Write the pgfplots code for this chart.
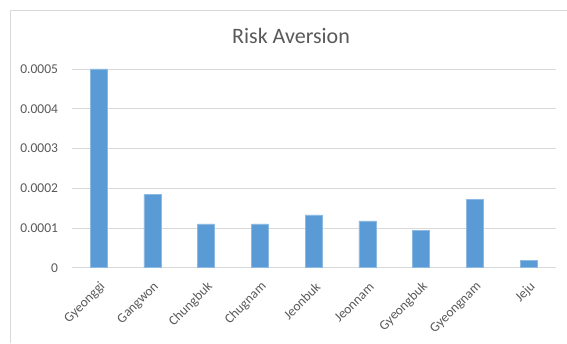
\documentclass[border=0pt]{standalone}
\usepackage{pgfplots}
\pgfplotsset{compat=1.18}
\usepackage{fontspec}
\setmainfont{Carlito}
\definecolor{barblue}{HTML}{5B9BD5}
\definecolor{gridgray}{HTML}{D9D9D9}
\definecolor{txtgray}{HTML}{595959}
\begin{document}
\begin{tikzpicture}[x=1pt,y=1pt]
\path[use as bounding box] (0,0) rectangle (567,343);
\draw[gridgray, line width=1pt] (10,0) -- (10,332) -- (567,332);
\node[anchor=base, font=\fontsize{22}{24}\selectfont, text=txtgray] at (291,299) {Risk Aversion};
\begin{axis}[
  at={(71.7pt,75.3pt)}, anchor=south west,
  scale only axis, width=484pt, height=198.7pt,
  xmin=-0.5, xmax=8.5, ymin=0, ymax=0.0005,
  ybar, bar width=17pt,
  scaled y ticks=false,
  xtick={0,1,2,3,4,5,6,7,8},
  xticklabels={Gyeonggi,Gangwon,Chungbuk,Chugnam,Jeonbuk,Jeonnam,Gyeongbuk,Gyeongnam,Jeju},
  ytick={0,0.0001,0.0002,0.0003,0.0004,0.0005},
  yticklabels={0,0.0001,0.0002,0.0003,0.0004,0.0005},
  ymajorgrids, grid style={gridgray, line width=0.9pt},
  axis x line*=bottom, axis y line*=left,
  x axis line style={gridgray, line width=0.9pt, -},
  y axis line style={draw=none},
  major tick length=0pt,
  /pgf/number format/assume math mode=true,
  yticklabel style={font=\fontsize{13.5}{14}\selectfont, text=txtgray, anchor=east, inner sep=0pt, xshift=-13.5pt},
  xticklabel style={font=\fontsize{13.5}{14}\selectfont, text=txtgray, xshift=4.4pt, yshift=-17pt, rotate=45, anchor=east, inner sep=0pt},
  clip=false,
]
\addplot[fill=barblue, draw=barblue!70!white, line width=0.6pt] coordinates {
  (0,0.000500) (1,0.000184) (2,0.000110) (3,0.000110) (4,0.000133)
  (5,0.000118) (6,0.0000944) (7,0.000172) (8,0.0000177)
};
\end{axis}
\end{tikzpicture}
\end{document}
